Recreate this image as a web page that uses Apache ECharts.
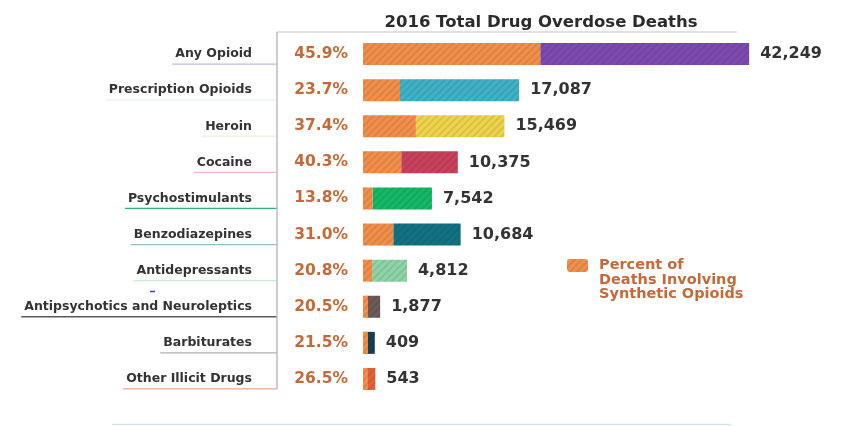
<!DOCTYPE html>
<html>
<head>
<meta charset="utf-8">
<script src="https://cdn.jsdelivr.net/npm/echarts@6/dist/echarts.min.js"></script>
<style>html,body{margin:0;padding:0;background:#fff;}#c{width:848px;height:426px;}</style>
</head>
<body>
<div id="c"></div>
<script>
var categories = ['Any Opioid','Prescription Opioids','Heroin','Cocaine','Psychostimulants','Benzodiazepines','Antidepressants','Antipsychotics and Neuroleptics','Barbiturates','Other Illicit Drugs'];
var totals = [42249, 17087, 15469, 10375, 7542, 10684, 4812, 1877, 409, 543];
var pctSynthetic = [45.9, 23.7, 37.4, 40.3, 13.8, 31.0, 20.8, 20.5, 21.5, 26.5];
var barColors = ['#7d4bb0','#40b1c6','#eed44c','#c8425c','#14b866','#137282','#8fd4a8','#6e5a58','#16405a','#e0623a'];
var underlineColors = ['#cbb7e2','#e6f1f3','#eef3e6','#f2b9c3','#2fb56c','#9bbcc4','#c9ecd6','#5a5a5a','#b0b0b0','#f0a486'];
var titleText = '2016 Total Drug Overdose Deaths';
var legendName = 'Percent of Deaths Involving Synthetic Opioids';
var legendLines = ['Percent of', 'Deaths Involving', 'Synthetic Opioids'];

var FONT = '"DejaVu Sans", sans-serif';
var LABEL_SIZE = 12.5;
var synthetic = totals.map(function(t,i){ return t * pctSynthetic[i] / 100; });
var rest = totals.map(function(t,i){ return t - synthetic[i]; });

var decal = { symbol: 'rect', symbolSize: 1, color: 'rgba(0,0,0,0.09)', dashArrayX: [1, 0], dashArrayY: [1.5, 3], rotation: -Math.PI / 4 };

var chart = echarts.init(document.getElementById('c'), null, { renderer: 'canvas' });
chart.setOption({
  animation: false,
  title: { text: titleText, left: 536, top: 9, textAlign: 'center',
    textStyle: { fontFamily: FONT, fontWeight: 'bold', fontSize: 16.5, color: '#2b2b2b' } },
  legend: {
    data: [legendName], left: 567, top: 229, padding: 0,
    itemWidth: 21, itemHeight: 13,
    formatter: function(){ return '\n\n' + legendLines.join('\n'); },
    textStyle: { fontFamily: FONT, fontWeight: 'bold', fontSize: 14.5, color: '#c46a3a', lineHeight: 14.5, padding: [0, 0, 0, 6] }
  },
  grid: { left: 363, right: 28, top: 36, bottom: 29 },
  xAxis: { type: 'value', min: 0, max: 50000, show: false },
  yAxis: { type: 'category', data: categories, inverse: true,
    axisLine: { show: false }, axisTick: { show: false }, splitLine: { show: false },
    axisLabel: { margin: 111, fontFamily: FONT, fontWeight: 'bold', fontSize: LABEL_SIZE, color: '#333' } },
  series: [
    { name: legendName, type: 'bar', stack: 'a', barWidth: 22, z: 3, barMinHeight: 5,
      data: synthetic,
      itemStyle: { color: '#f28f4a', decal: decal },
      label: { show: true, position: 'left', distance: 15,
        formatter: function(p){ return pctSynthetic[p.dataIndex].toFixed(1) + '%'; },
        fontFamily: FONT, fontWeight: 'bold', fontSize: 15.5, color: '#c46a3a' } },
    { name: 'Total', type: 'bar', stack: 'a', barWidth: 22, z: 2, barMinHeight: 11,
      data: rest.map(function(v,i){ return { value: v, itemStyle: { color: barColors[i] } }; }),
      itemStyle: { decal: decal },
      label: { show: true, position: 'right', distance: 11,
        formatter: function(p){ return totals[p.dataIndex].toLocaleString('en-US'); },
        fontFamily: FONT, fontWeight: 'bold', fontSize: 16, color: '#333' } }
  ]
});

// decorative lines: underlines, vertical connector, title rule
var ctx = document.createElement('canvas').getContext('2d');
ctx.font = 'bold ' + LABEL_SIZE + 'px ' + FONT;
var labelRight = 363 - 111;
var connectorX = 277;
var g = [];
var lastY = 0;
categories.forEach(function(c, i){
  var y = chart.convertToPixel({ yAxisIndex: 0 }, c) + 10;
  lastY = y;
  var w = ctx.measureText(c).width;
  g.push({ type: 'line', shape: { x1: labelRight - w - 3, y1: y, x2: connectorX, y2: y },
    style: { stroke: underlineColors[i], lineWidth: 1.3 }, silent: true });
});
var titleY = 32;
g.push({ type: 'line', shape: { x1: connectorX, y1: titleY, x2: connectorX, y2: lastY }, style: { stroke: '#bdbdbd', lineWidth: 1.5 } });
g.push({ type: 'line', shape: { x1: connectorX, y1: titleY, x2: 737, y2: titleY }, style: { stroke: '#c4c4c4', lineWidth: 1.2 } });
g.push({ type: 'line', shape: { x1: 112, y1: 424.5, x2: 731, y2: 424.5 }, style: { stroke: '#cfe7e7', lineWidth: 1.5 } });
g.push({ type: 'line', shape: { x1: 150, y1: 291.5, x2: 155, y2: 291.5 }, style: { stroke: '#2a3cff', lineWidth: 1.5 } });
chart.setOption({ graphic: g });
</script>
</body>
</html>
